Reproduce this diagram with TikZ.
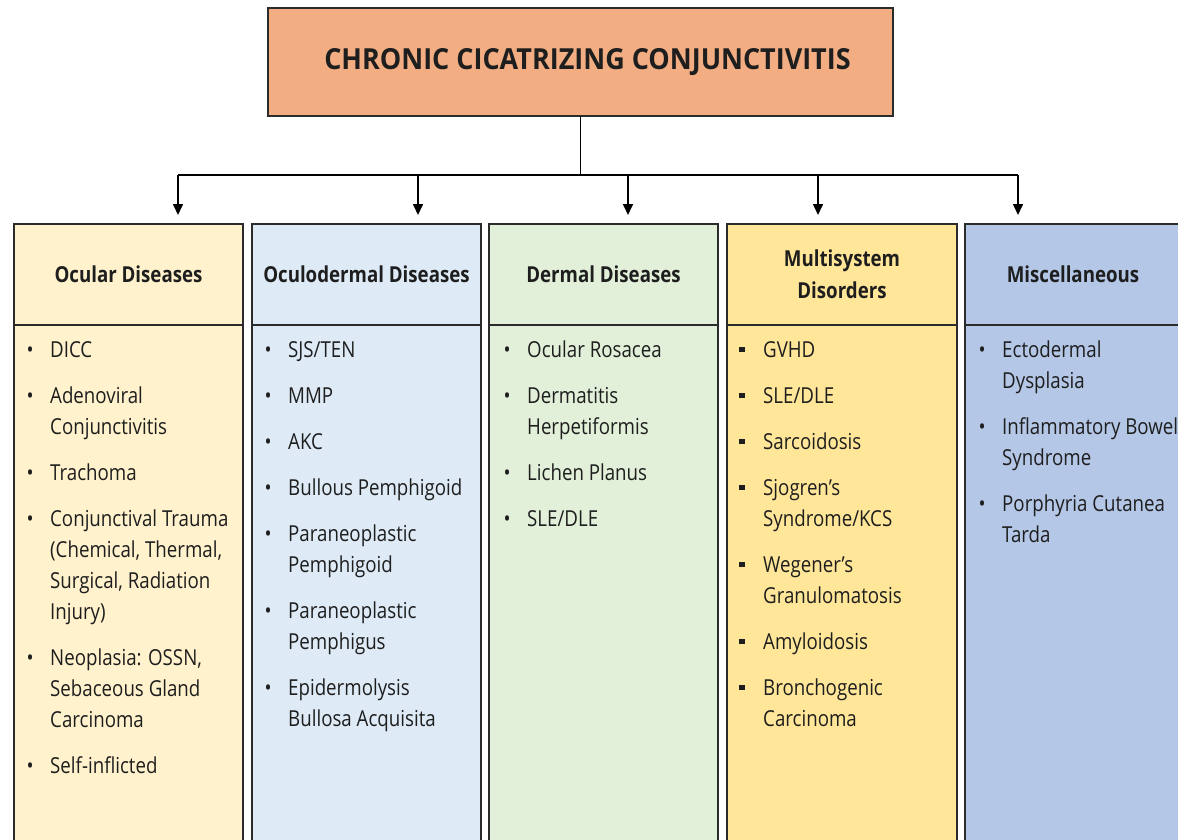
\documentclass[tikz,border=0pt]{standalone}
\usepackage{fontspec}
\setmainfont[FakeStretch=0.85]{Open Sans}
\newfontfamily\titlefont[FakeStretch=0.93]{Open Sans}
\usetikzlibrary{arrows.meta}

\definecolor{txt}{HTML}{1E1E1E}
\definecolor{boxline}{HTML}{2B2B2B}
\definecolor{rootfill}{HTML}{F2AE82}
\definecolor{ocular}{HTML}{FFF2CC}
\definecolor{oculoderm}{HTML}{DEEBF7}
\definecolor{dermal}{HTML}{E2F0D9}
\definecolor{multi}{HTML}{FFE699}
\definecolor{misc}{HTML}{B4C7E7}

% round and square list markers, hung 20pt left of the item text
\newcommand\bul{\llap{\makebox[40pt][c]{\textbullet}}}
\newcommand\sqb{\llap{\makebox[42pt][c]{\raisebox{5pt}{\rule{5.5pt}{5.5pt}}}}}
% fixed height for the first line of every list
\newcommand\firstline{\rule{0pt}{22pt}}

\begin{document}
\begin{tikzpicture}[x=1pt,y=-1pt,
  box/.style={draw=boxline, line width=1.8pt, rectangle, inner sep=0pt, outer sep=0pt},
  hdr/.style={box, anchor=north west, minimum height=101pt, text=txt,
    font=\bfseries\fontsize{22}{32}\selectfont, align=center},
  colbody/.style={box, anchor=north west, minimum height=560pt},
  list/.style={anchor=north west, inner sep=0pt, align=left, text=txt,
    font=\fontsize{22}{31}\selectfont},
  conn/.style={line width=1.6pt, draw=black},
  arr/.style={conn, -{Triangle[width=10pt,length=11pt]}, shorten >=9pt}]

\useasboundingbox (0,0) rectangle (1178,840);
\clip (0,0) rectangle (1178,840);

% root
\node[box, fill=rootfill, minimum width=625pt, minimum height=108pt, text=txt,
  font=\titlefont\bfseries\fontsize{29}{32}\selectfont] (top) at (580.5,62)
  {\hspace*{14pt}CHRONIC CICATRIZING CONJUNCTIVITIS};

% column bodies
\node[colbody, fill=ocular,    minimum width=229pt] (b1) at (14,325) {};
\node[colbody, fill=oculoderm, minimum width=229pt] (b2) at (252,325) {};
\node[colbody, fill=dermal,    minimum width=229pt] (b3) at (489,325) {};
\node[colbody, fill=multi,     minimum width=230pt] (b4) at (727,325) {};
\node[colbody, fill=misc,      minimum width=216pt] (b5) at (965,325) {};

% column headers
\node[hdr, fill=ocular,    minimum width=229pt] (h1) at (14,224) {Ocular Diseases};
\node[hdr, fill=oculoderm, minimum width=229pt] (h2) at (252,224) {Oculodermal Diseases};
\node[hdr, fill=dermal,    minimum width=229pt] (h3) at (489,224) {Dermal Diseases};
\node[hdr, fill=multi,     minimum width=230pt] (h4) at (727,224) {Multisystem\\Disorders};
\node[hdr, fill=misc,      minimum width=216pt] (h5) at (965,224) {Miscellaneous};

% connectors
\coordinate (bus) at (0,175);
\coordinate (a1) at (178,175);
\coordinate (a2) at (418,175);
\coordinate (a3) at (628,175);
\coordinate (a4) at (818,175);
\coordinate (a5) at (1018,175);
\draw[conn] (top.south) -- (top.south |- bus);
\draw[conn] (a1) -- (a5);
\draw[arr] (a1) -- (a1 |- h1.north);
\draw[arr] (a2) -- (a2 |- h2.north);
\draw[arr] (a3) -- (a3 |- h3.north);
\draw[arr] (a4) -- (a4 |- h4.north);
\draw[arr] (a5) -- (a5 |- h5.north);

% item lists
\node[list] (t1) at (50,335) {\firstline\bul DICC\\[15pt]
  \bul Adenoviral\\Conjunctivitis\\[15pt]
  \bul Trachoma\\[15pt]
  \bul Conjunctival Trauma\\(Chemical, Thermal,\\Surgical, Radiation\\Injury)\\[15pt]
  \bul Neoplasia: OSSN,\\Sebaceous Gland\\Carcinoma\\[15pt]
  \bul Self-inflicted};

\node[list] (t2) at (288,335) {\firstline\bul SJS/TEN\\[15pt]
  \bul MMP\\[15pt]
  \bul AKC\\[15pt]
  \bul Bullous Pemphigoid\\[15pt]
  \bul Paraneoplastic\\Pemphigoid\\[15pt]
  \bul Paraneoplastic\\Pemphigus\\[15pt]
  \bul Epidermolysis\\Bullosa Acquisita};

\node[list] (t3) at (527,335) {\firstline\bul Ocular Rosacea\\[15pt]
  \bul Dermatitis\\Herpetiformis\\[15pt]
  \bul Lichen Planus\\[15pt]
  \bul SLE/DLE};

\node[list] (t4) at (763,335) {\firstline\sqb GVHD\\[15pt]
  \sqb SLE/DLE\\[15pt]
  \sqb Sarcoidosis\\[15pt]
  \sqb Sjogren’s\\Syndrome/KCS\\[15pt]
  \sqb Wegener’s\\Granulomatosis\\[15pt]
  \sqb Amyloidosis\\[15pt]
  \sqb Bronchogenic\\Carcinoma};

\node[list] (t5) at (1002,335) {\firstline\bul Ectodermal\\Dysplasia\\[15pt]
  \bul Inflammatory Bowel\\Syndrome\\[15pt]
  \bul Porphyria Cutanea\\Tarda};
\end{tikzpicture}
\end{document}
